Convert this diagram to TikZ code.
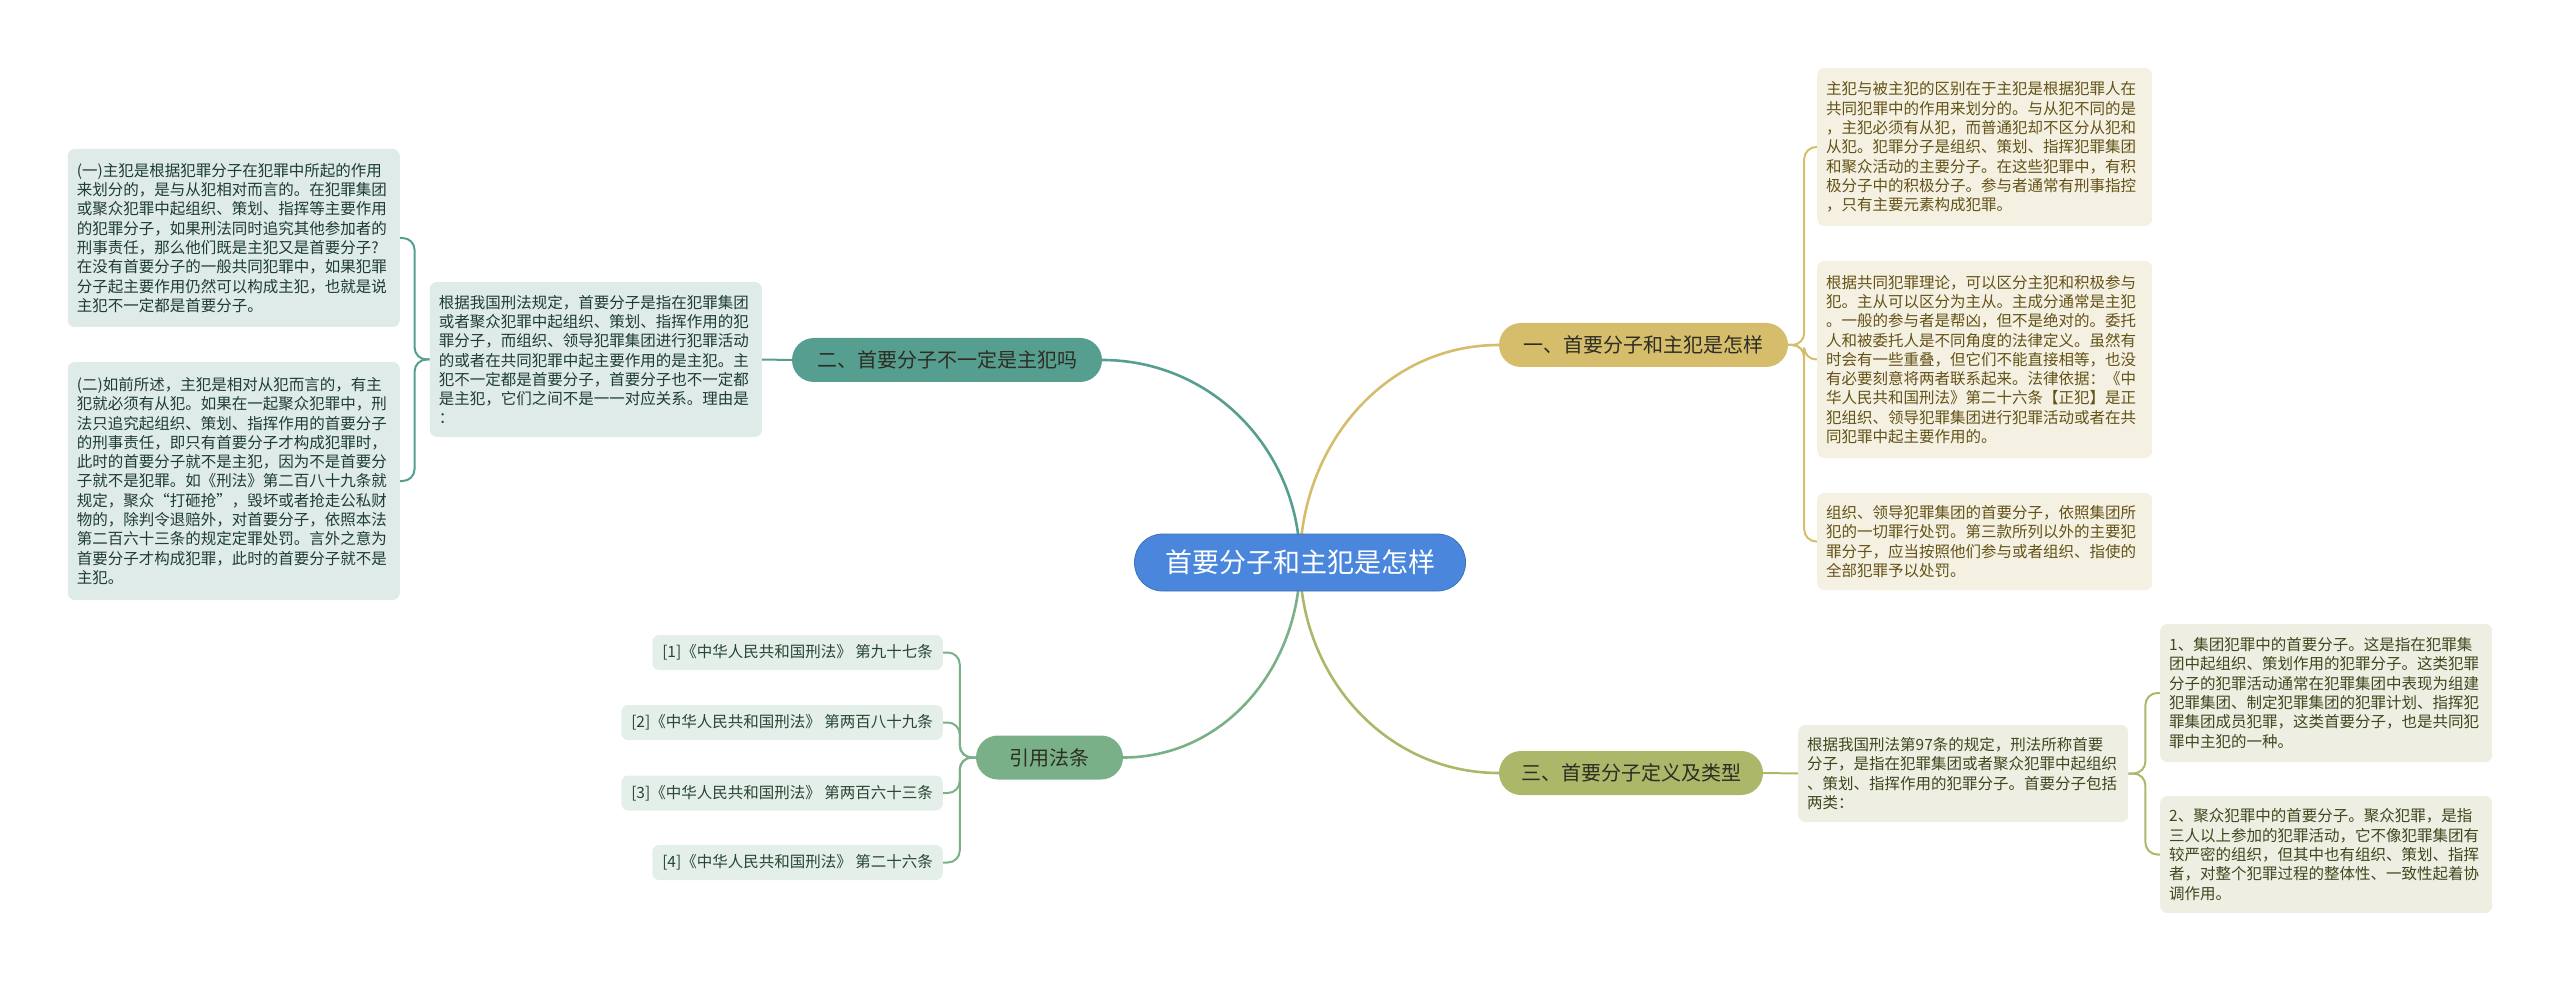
\documentclass[tikz,border=0pt]{standalone}
\usepackage{fontspec}
\usepackage{tikz}
\usetikzlibrary{positioning,backgrounds}
\newfontfamily\cjk{Noto Sans CJK SC}
\definecolor{mmBlue}{RGB}{74,134,219}
\definecolor{mmGold}{RGB}{213,189,107}
\definecolor{mmOlive}{RGB}{173,183,106}
\definecolor{mmTeal}{RGB}{86,158,144}
\definecolor{mmGreen}{RGB}{122,176,136}
\definecolor{mmGoldLeaf}{RGB}{244,241,227}
\definecolor{mmOliveLeaf}{RGB}{238,239,226}
\definecolor{mmTealLeaf}{RGB}{222,235,232}
\definecolor{mmGreenLeaf}{RGB}{227,239,232}
\definecolor{mmGoldText}{RGB}{100,82,22}
\definecolor{mmOliveText}{RGB}{62,72,30}
\definecolor{mmTealText}{RGB}{30,60,54}
\definecolor{mmGreenText}{RGB}{40,70,52}
\definecolor{mmDark}{RGB}{45,45,35}

\begin{document}
\begin{tikzpicture}[x=1pt, y=-1pt,
  rootnode/.style={rectangle, rounded corners=28pt, fill=mmBlue, draw=mmBlue!85!black, line width=0.8pt,
    text=white, font=\cjk\fontsize{27}{30}\selectfont, minimum width=331pt, minimum height=57pt},
  topic/.style={rectangle, rounded corners=22pt, text=mmDark, font=\cjk\fontsize{20}{24}\selectfont,
    minimum height=44pt, inner xsep=20pt},
  leaf/.style={rectangle, rounded corners=7pt, inner xsep=9pt, inner ysep=0pt, align=left,
    font=\cjk\fontsize{15.5}{19.3}\selectfont},
  goldleaf/.style={leaf, fill=mmGoldLeaf, text=mmGoldText, text width=317pt},
  oliveleaf/.style={leaf, fill=mmOliveLeaf, text=mmOliveText},
  tealleaf/.style={leaf, fill=mmTealLeaf, text=mmTealText, text width=314pt},
  citeleaf/.style={leaf, fill=mmGreenLeaf, text=mmGreenText, inner xsep=10pt, minimum height=35pt},
  mainline/.style={line width=2.6pt},
  bracket/.style={line width=2pt, rounded corners=12pt}]

  \useasboundingbox (0,0) rectangle (2560,981);

  % centre
  \node[rootnode] (root) at (1300,562.5) {首要分子和主犯是怎样};

  % topics
  \node[topic, fill=mmGold, minimum width=289pt] (one) at (1643.5,345) {一、首要分子和主犯是怎样};
  \node[topic, fill=mmOlive, minimum width=264pt] (three) at (1631,773) {三、首要分子定义及类型};
  \node[topic, fill=mmTeal, minimum width=310pt] (two) at (947,360) {二、首要分子不一定是主犯吗};
  \node[topic, fill=mmGreen, minimum width=147pt] (cite) at (1049.5,757.5) {引用法条};

  % branch one
  \node[goldleaf, anchor=west, minimum height=158pt] (oneA) at (1817,147) {%
    主犯与被主犯的区别在于主犯是根据犯罪人在\\共同犯罪中的作用来划分的。与从犯不同的是\\，主犯必须有从犯，而普通犯却不区分从犯和\\从犯。犯罪分子是组织、策划、指挥犯罪集团\\和聚众活动的主要分子。在这些犯罪中，有积\\极分子中的积极分子。参与者通常有刑事指控\\，只有主要元素构成犯罪。};
  \node[goldleaf, anchor=west, minimum height=197pt] (oneB) at (1817,359.5) {%
    根据共同犯罪理论，可以区分主犯和积极参与\\犯。主从可以区分为主从。主成分通常是主犯\\。一般的参与者是帮凶，但不是绝对的。委托\\人和被委托人是不同角度的法律定义。虽然有\\时会有一些重叠，但它们不能直接相等，也没\\有必要刻意将两者联系起来。法律依据：《中\\华人民共和国刑法》第二十六条【正犯】是正\\犯组织、领导犯罪集团进行犯罪活动或者在共\\同犯罪中起主要作用的。};
  \node[goldleaf, anchor=west, minimum height=97pt] (oneC) at (1817,541.5) {%
    组织、领导犯罪集团的首要分子，依照集团所\\犯的一切罪行处罚。第三款所列以外的主要犯\\罪分子，应当按照他们参与或者组织、指使的\\全部犯罪予以处罚。};

  % branch three
  \node[oliveleaf, anchor=west, text width=312pt, minimum height=97pt] (threeMid) at (1798,773.5) {%
    根据我国刑法第97条的规定，刑法所称首要\\分子，是指在犯罪集团或者聚众犯罪中起组织\\、策划、指挥作用的犯罪分子。首要分子包括\\两类：};
  \node[oliveleaf, anchor=west, text width=314pt, minimum height=138pt] (threeA) at (2160,693) {%
    1、集团犯罪中的首要分子。这是指在犯罪集\\团中起组织、策划作用的犯罪分子。这类犯罪\\分子的犯罪活动通常在犯罪集团中表现为组建\\犯罪集团、制定犯罪集团的犯罪计划、指挥犯\\罪集团成员犯罪，这类首要分子，也是共同犯\\罪中主犯的一种。};
  \node[oliveleaf, anchor=west, text width=314pt, minimum height=117pt] (threeB) at (2160,854.5) {%
    2、聚众犯罪中的首要分子。聚众犯罪，是指\\三人以上参加的犯罪活动，它不像犯罪集团有\\较严密的组织，但其中也有组织、策划、指挥\\者，对整个犯罪过程的整体性、一致性起着协\\调作用。};

  % branch two
  \node[tealleaf, anchor=east, minimum height=155pt] (twoMid) at (762,359.5) {%
    根据我国刑法规定，首要分子是指在犯罪集团\\或者聚众犯罪中起组织、策划、指挥作用的犯\\罪分子，而组织、领导犯罪集团进行犯罪活动\\的或者在共同犯罪中起主要作用的是主犯。主\\犯不一定都是首要分子，首要分子也不一定都\\是主犯，它们之间不是一一对应关系。理由是\\：};
  \node[tealleaf, anchor=east, minimum height=178pt] (twoA) at (400,238) {%
    (一)主犯是根据犯罪分子在犯罪中所起的作用\\来划分的，是与从犯相对而言的。在犯罪集团\\或聚众犯罪中起组织、策划、指挥等主要作用\\的犯罪分子，如果刑法同时追究其他参加者的\\刑事责任，那么他们既是主犯又是首要分子?\\在没有首要分子的一般共同犯罪中，如果犯罪\\分子起主要作用仍然可以构成主犯，也就是说\\主犯不一定都是首要分子。};
  \node[tealleaf, anchor=east, minimum height=238pt] (twoB) at (400,481) {%
    (二)如前所述，主犯是相对从犯而言的，有主\\犯就必须有从犯。如果在一起聚众犯罪中，刑\\法只追究起组织、策划、指挥作用的首要分子\\的刑事责任，即只有首要分子才构成犯罪时，\\此时的首要分子就不是主犯，因为不是首要分\\子就不是犯罪。如《刑法》第二百八十九条就\\规定，聚众“打砸抢”，毁坏或者抢走公私财\\物的，除判令退赔外，对首要分子，依照本法\\第二百六十三条的规定定罪处罚。言外之意为\\首要分子才构成犯罪，此时的首要分子就不是\\主犯。};

  % cited laws
  \node[citeleaf, anchor=east] (c1) at (943,652.5) {[1]《中华人民共和国刑法》 第九十七条};
  \node[citeleaf, anchor=east] (c2) at (943,722.5) {[2]《中华人民共和国刑法》 第两百八十九条};
  \node[citeleaf, anchor=east] (c3) at (943,793) {[3]《中华人民共和国刑法》 第两百六十三条};
  \node[citeleaf, anchor=east] (c4) at (943,862.5) {[4]《中华人民共和国刑法》 第二十六条};

  \begin{scope}[on background layer]
    % main curves
    \draw[mainline, mmGold] (root.center) to[out=90, in=180] (one.west);
    \draw[mainline, mmOlive] (root.center) to[out=-90, in=180] (three.west);
    \draw[mainline, mmTeal] (root.center) to[out=90, in=0] (two.east);
    \draw[mainline, mmGreen] (root.center) to[out=-90, in=0] (cite.east);

    % brackets
    \foreach \leaf in {oneA,oneB,oneC}
      \draw[bracket, mmGold] (one.east) -- ++(16,0) |- (\leaf.west);
    \draw[bracket, mmOlive] (three.east) -- (threeMid.west);
    \foreach \leaf in {threeA,threeB}
      \draw[bracket, mmOlive] (threeMid.east) -- ++(17,0) |- (\leaf.west);
    \draw[bracket, mmTeal] (two.west) -- (twoMid.east);
    \foreach \leaf in {twoA,twoB}
      \draw[bracket, mmTeal] (twoMid.west) -- ++(-15,0) |- (\leaf.east);
    \foreach \leaf in {c1,c2,c3,c4}
      \draw[bracket, mmGreen] (cite.west) -- ++(-16,0) |- (\leaf.east);
  \end{scope}
\end{tikzpicture}
\end{document}
